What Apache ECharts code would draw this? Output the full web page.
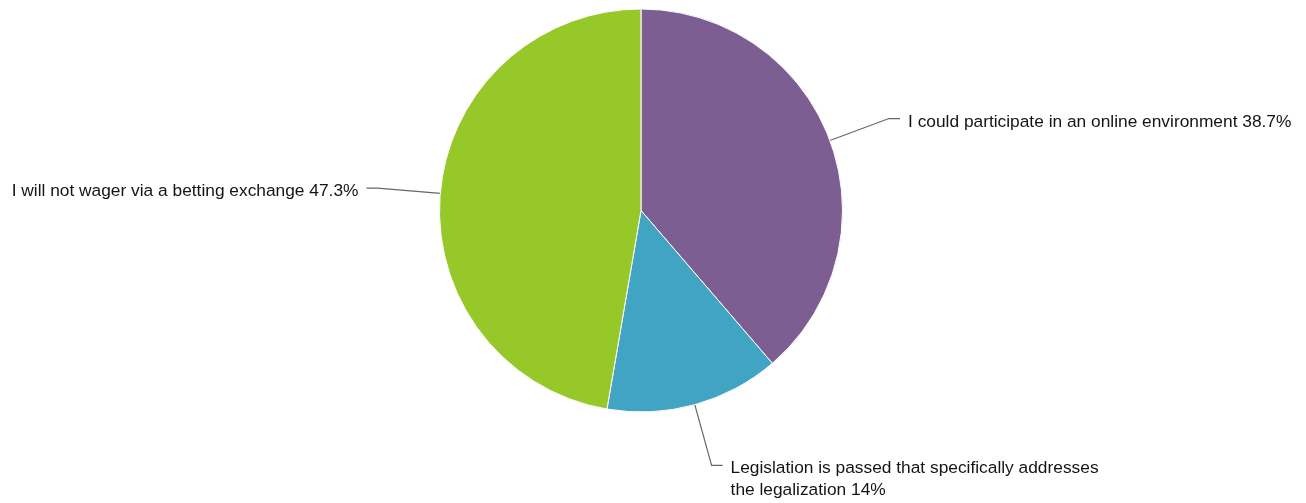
<!DOCTYPE html>
<html>
<head>
<meta charset="utf-8">
<style>
  html, body { margin: 0; padding: 0; background: #ffffff; }
  #chart { width: 1306px; height: 503px; }
</style>
<script src="https://cdn.jsdelivr.net/npm/echarts@6/dist/echarts.min.js"></script>
</head>
<body>
<div id="chart"></div>
<script>
const categories = [
  "I could participate in an online environment",
  "Legislation is passed that specifically addresses the legalization",
  "I will not wager via a betting exchange"
];
const values = [38.7, 14, 47.3];
const colors = ["#7C5E92", "#42A4C3", "#97C82A"];

const FONT = '"Liberation Sans", Arial, Helvetica, sans-serif';
const FONT_SIZE = 17.33;
const WRAP_WIDTH = 390;

// word-wrap helper measuring with canvas
const measureCtx = document.createElement('canvas').getContext('2d');
measureCtx.font = FONT_SIZE + 'px ' + FONT;
function wrap(text, maxW) {
  const words = text.split(' ');
  const lines = [];
  let cur = '';
  words.forEach(w => {
    const test = cur ? cur + ' ' + w : w;
    if (cur && measureCtx.measureText(test).width > maxW) {
      lines.push(cur);
      cur = w;
    } else {
      cur = test;
    }
  });
  if (cur) lines.push(cur);
  return lines;
}

const chart = echarts.init(document.getElementById('chart'), null, { renderer: 'canvas' });

const data = categories.map((name, i) => ({
  name: name, value: values[i], itemStyle: { color: colors[i] }
}));

chart.setOption({
  animation: false,
  backgroundColor: '#ffffff',
  series: [{
    type: 'pie',
    center: [641, 210.5],
    radius: 201.5,
    startAngle: 90,
    clockwise: true,
    avoidLabelOverlap: false,
    data: data,
    itemStyle: { borderColor: '#ffffff', borderWidth: 1 },
    label: {
      show: true,
      formatter: p => {
        const full = p.name + ' ' + p.value + '%';
        const lines = wrap(full, WRAP_WIDTH);
        if (lines.length > 1) {
          return '{e| }\n' + lines.map(l => '{u|' + l + '}').join('\n');
        }
        return '{t|' + full + '}';
      },
      fontFamily: FONT,
      fontSize: FONT_SIZE,
      lineHeight: 22,
      color: '#141414',
      distanceToLabelLine: 8,
      rich: {
        t: { fontFamily: FONT, fontSize: FONT_SIZE, lineHeight: 22, color: '#141414', padding: [7, 0, 0, 0] },
        u: { fontFamily: FONT, fontSize: FONT_SIZE, lineHeight: 22, color: '#141414' },
        e: { fontFamily: FONT, fontSize: FONT_SIZE, lineHeight: 28, color: '#141414' }
      }
    },
    labelLine: {
      show: true,
      length: 63,
      length2: 11,
      smooth: false,
      lineStyle: { color: '#666666', width: 1.2 }
    },
    emphasis: { disabled: true }
  }]
});
</script>
</body>
</html>
